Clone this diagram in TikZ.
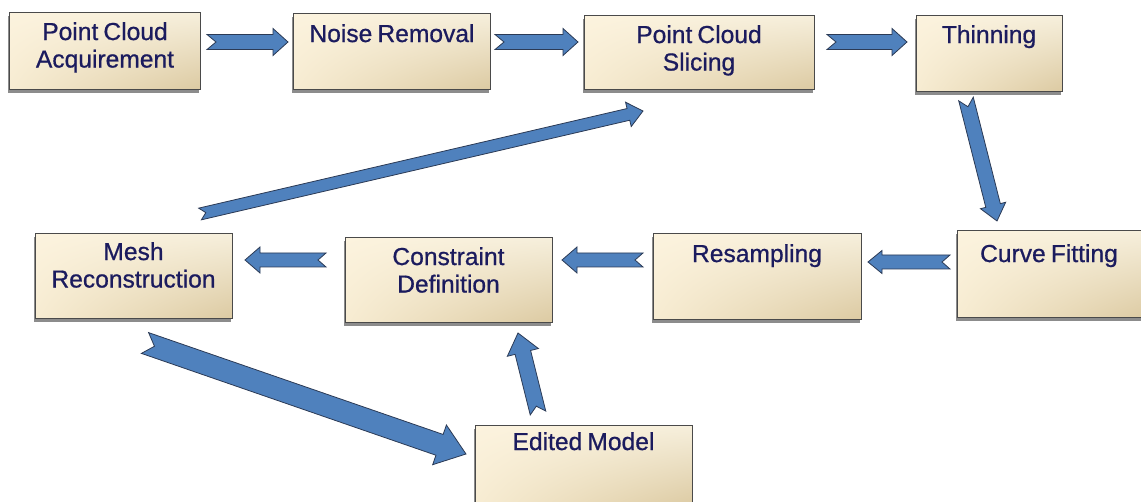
\documentclass[tikz,border=0pt]{standalone}
\usepackage{fontspec}
\setmainfont{Liberation Sans}
\newfontfamily\stagefont[FakeBold=0.7, WordSpace=0.75]{Liberation Sans}
\usetikzlibrary{calc,shadows,shadings}

\definecolor{boxul}{HTML}{FCF3DE}
\definecolor{boxur}{HTML}{F6EFDC}
\definecolor{boxll}{HTML}{F7ECD2}
\definecolor{boxlr}{HTML}{DCCAA2}
\definecolor{boxline}{HTML}{4A4A4A}
\definecolor{labelnavy}{HTML}{1B1B5E}
\definecolor{arrowblue}{HTML}{4F81BD}
\definecolor{arrowline}{HTML}{2B3A55}

\tikzset{
  stage/.style={draw=boxline, line width=1.1pt, anchor=north west, inner sep=0pt,
    upper left=boxul, upper right=boxur, lower left=boxll, lower right=boxlr,
    drop shadow={shadow xshift=-2pt, shadow yshift=-3pt, fill=black, opacity=0.45}},
  caption/.style={text=labelnavy, font=\stagefont\fontsize{24.6}{27.5}\selectfont,
    align=center, inner sep=0pt, anchor=north},
  blockarrow/.style={fill=arrowblue, draw=arrowline, line width=0.8pt, line join=miter}
}

% notched block arrow: tail, tip, half body width, half head width, head length, notch depth
\newcommand\notcharrow[6]{%
  \coordinate (#1-#2-b) at ($(#2)!#5!(#1)$);
  \draw[blockarrow] ($(#1)!#3!90:(#2)$) -- ($(#1-#2-b)!#3!90:(#2)$)
    -- ($(#1-#2-b)!#4!90:(#2)$) -- (#2) -- ($(#1-#2-b)!#4!-90:(#2)$)
    -- ($(#1-#2-b)!#3!-90:(#2)$) -- ($(#1)!#3!-90:(#2)$) -- ($(#1)!#6!(#2)$) -- cycle;
}

\begin{document}
\begin{tikzpicture}[x=1pt, y=-1pt]
\useasboundingbox (0,0) rectangle (1141,502);

% process stages
\node[stage, minimum width=191pt, minimum height=77pt] (acq)    at (9,12)    {};
\node[stage, minimum width=197pt, minimum height=76pt] (noise)  at (293,13)  {};
\node[stage, minimum width=230pt, minimum height=74pt] (slice)  at (584,15)  {};
\node[stage, minimum width=146pt, minimum height=76pt] (thin)   at (916,15)  {};
\node[stage, minimum width=192pt, minimum height=87pt] (curve)  at (957,230) {};
\node[stage, minimum width=208pt, minimum height=86pt] (resamp) at (653,233) {};
\node[stage, minimum width=207pt, minimum height=85pt] (constr) at (345,237) {};
\node[stage, minimum width=197pt, minimum height=85pt] (mesh)   at (35,233)  {};
\node[stage, minimum width=217pt, minimum height=82pt] (edited) at (475,425) {};

% stage captions
\node[caption] (acq-t)    at (105,22)      {Point Cloud\\Acquirement};
\node[caption] (noise-t)  at (392,24)      {Noise Removal};
\node[caption] (slice-t)  at (699,25)      {Point Cloud\\Slicing};
\node[caption] (thin-t)   at (989,25)      {Thinning};
\node[caption] (curve-t)  at (1049,244)    {Curve Fitting};
\node[caption] (resamp-t) at (757,244)     {Resampling};
\node[caption] (constr-t) at (448.5,247)   {Constraint\\Definition};
\node[caption] (mesh-t)   at (133.5,242)   {Mesh\\Reconstruction};
\node[caption] (edited-t) at (583.5,432)   {Edited Model};

% arrow ends
\coordinate (a1s) at (207,42);  \coordinate (a1e) at (288,42);
\coordinate (a2s) at (495,42);  \coordinate (a2e) at (578,42);
\coordinate (a3s) at (827,42);  \coordinate (a3e) at (907,42);
\coordinate (a4s) at (966,99);  \coordinate (a4e) at (997,221);
\coordinate (a5s) at (950,262); \coordinate (a5e) at (868,262);
\coordinate (a6s) at (643,260); \coordinate (a6e) at (562,260);
\coordinate (a7s) at (326,260); \coordinate (a7e) at (245,260);
\coordinate (a8s) at (200,214); \coordinate (a8e) at (643,111);
\coordinate (a9s) at (145,343); \coordinate (a9e) at (466,454);
\coordinate (a10s) at (538,413); \coordinate (a10e) at (518,333);

% connectors
\notcharrow{a1s}{a1e}{7.5pt}{13.5pt}{15pt}{9pt}
\notcharrow{a2s}{a2e}{7.5pt}{13.5pt}{15pt}{9pt}
\notcharrow{a3s}{a3e}{7.5pt}{13.5pt}{15pt}{9pt}
\notcharrow{a4s}{a4e}{7.5pt}{13pt}{16pt}{8pt}
\notcharrow{a5s}{a5e}{7pt}{11.5pt}{14pt}{8pt}
\notcharrow{a6s}{a6e}{7pt}{13pt}{15pt}{8pt}
\notcharrow{a7s}{a7e}{7pt}{13pt}{15pt}{8pt}
\notcharrow{a8s}{a8e}{6pt}{12.5pt}{15pt}{6pt}
\notcharrow{a9s}{a9e}{11pt}{21pt}{28pt}{10pt}
\notcharrow{a10s}{a10e}{8pt}{16pt}{20pt}{7pt}
\end{tikzpicture}
\end{document}
